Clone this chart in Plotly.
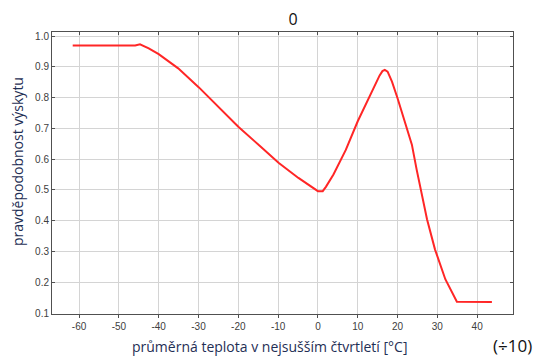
import plotly.graph_objects as go

# data
temp = [-61.6, -45.9, -44.7, -42.5, -40.0, -35.1, -29.9, -24.6, -20.0, -14.5, -9.9, -4.9, -1.0, 0.0,
        1.2, 2.0, 3.9, 7.0, 10.0, 13.5, 15.5, 16.2, 16.8, 17.5, 18.6, 20.0, 23.6, 24.8, 25.7, 27.4,
        29.4, 32.0, 34.9, 43.7]
prob = [0.969, 0.969, 0.973, 0.960, 0.941, 0.895, 0.833, 0.763, 0.705, 0.642, 0.588, 0.539, 0.503, 0.496,
        0.496, 0.510, 0.550, 0.630, 0.723, 0.820, 0.872, 0.886, 0.890, 0.884, 0.852, 0.798, 0.647, 0.566,
        0.507, 0.405, 0.307, 0.210, 0.137, 0.136]
x_ticks = [-60, -50, -40, -30, -20, -10, 0, 10, 20, 30, 40]
y_ticks = [0.1, 0.2, 0.3, 0.4, 0.5, 0.6, 0.7, 0.8, 0.9, 1.0]
title = "0"
x_title = "průměrná teplota v nejsušším čtvrtletí [°C]"
y_title = "pravděpodobnost výskytu"
scale_note = "(÷10)"

XR = [-66.8, 49.0]
YR = [0.097, 1.013]

fig = go.Figure()
fig.add_trace(go.Scatter(x=temp, y=prob, mode="lines",
                         line=dict(color="#ff2626", width=2),
                         showlegend=False, hoverinfo="skip"))
# invisible trace to anchor the mirrored top/right axes
fig.add_trace(go.Scatter(x=[temp[0]], y=[prob[0]], xaxis="x2", yaxis="y2", mode="markers",
                         marker=dict(opacity=0), showlegend=False, hoverinfo="skip"))

tickfont = dict(family="Liberation Sans, Arial, sans-serif", size=10, color="#404040")
fig.update_layout(
    width=536, height=358,
    margin=dict(l=52, r=23, t=32, b=44),
    paper_bgcolor="white", plot_bgcolor="white",
    title=dict(text=title, x=0.547, xanchor="center", y=1 - 19 / 358, yanchor="middle",
               font=dict(family="Open Sans, sans-serif", size=16, color="#111111")),
    xaxis=dict(range=XR, tickvals=x_ticks, ticktext=[str(v) for v in x_ticks],
               showgrid=True, gridcolor="#d4d4d4", gridwidth=1, zeroline=False,
               showline=True, linecolor="#505050", linewidth=1,
               ticks="outside", ticklen=3, tickcolor="#505050", tickfont=tickfont),
    yaxis=dict(range=YR, tickvals=y_ticks, ticktext=[f"{v:.1f}" for v in y_ticks],
               showgrid=True, gridcolor="#d4d4d4", gridwidth=1, zeroline=False,
               showline=True, linecolor="#505050", linewidth=1,
               ticks="inside", ticklen=3, tickcolor="#505050", tickfont=tickfont),
    xaxis2=dict(range=XR, overlaying="x", side="top", tickvals=x_ticks, showticklabels=False,
                showgrid=False, zeroline=False, showline=True, linecolor="#505050", linewidth=1,
                ticks="inside", ticklen=3, tickcolor="#505050"),
    yaxis2=dict(range=YR, overlaying="y", side="right", tickvals=y_ticks, showticklabels=False,
                showgrid=False, zeroline=False, showline=True, linecolor="#505050", linewidth=1,
                ticks="inside", ticklen=3, tickcolor="#505050"),
    annotations=[
        dict(text=x_title, xref="paper", yref="paper", x=(269 - 52) / 461, y=-(346 - 314) / 282,
             xanchor="center", yanchor="middle", showarrow=False,
             font=dict(family="Open Sans, sans-serif", size=14, color="#1f2f55")),
        dict(text=y_title, xref="paper", yref="paper", x=-(52 - 17) / 461, y=(314 - 162) / 282,
             xanchor="center", yanchor="middle", textangle=-90, showarrow=False,
             font=dict(family="Open Sans, sans-serif", size=14, color="#1f2f55")),
        dict(text=scale_note, xref="paper", yref="paper", x=(512 - 52) / 461, y=-(345 - 314) / 282,
             xanchor="center", yanchor="middle", showarrow=False,
             font=dict(family="Open Sans, sans-serif", size=17, color="#111111")),
    ],
)

fig.write_html("out.html")
